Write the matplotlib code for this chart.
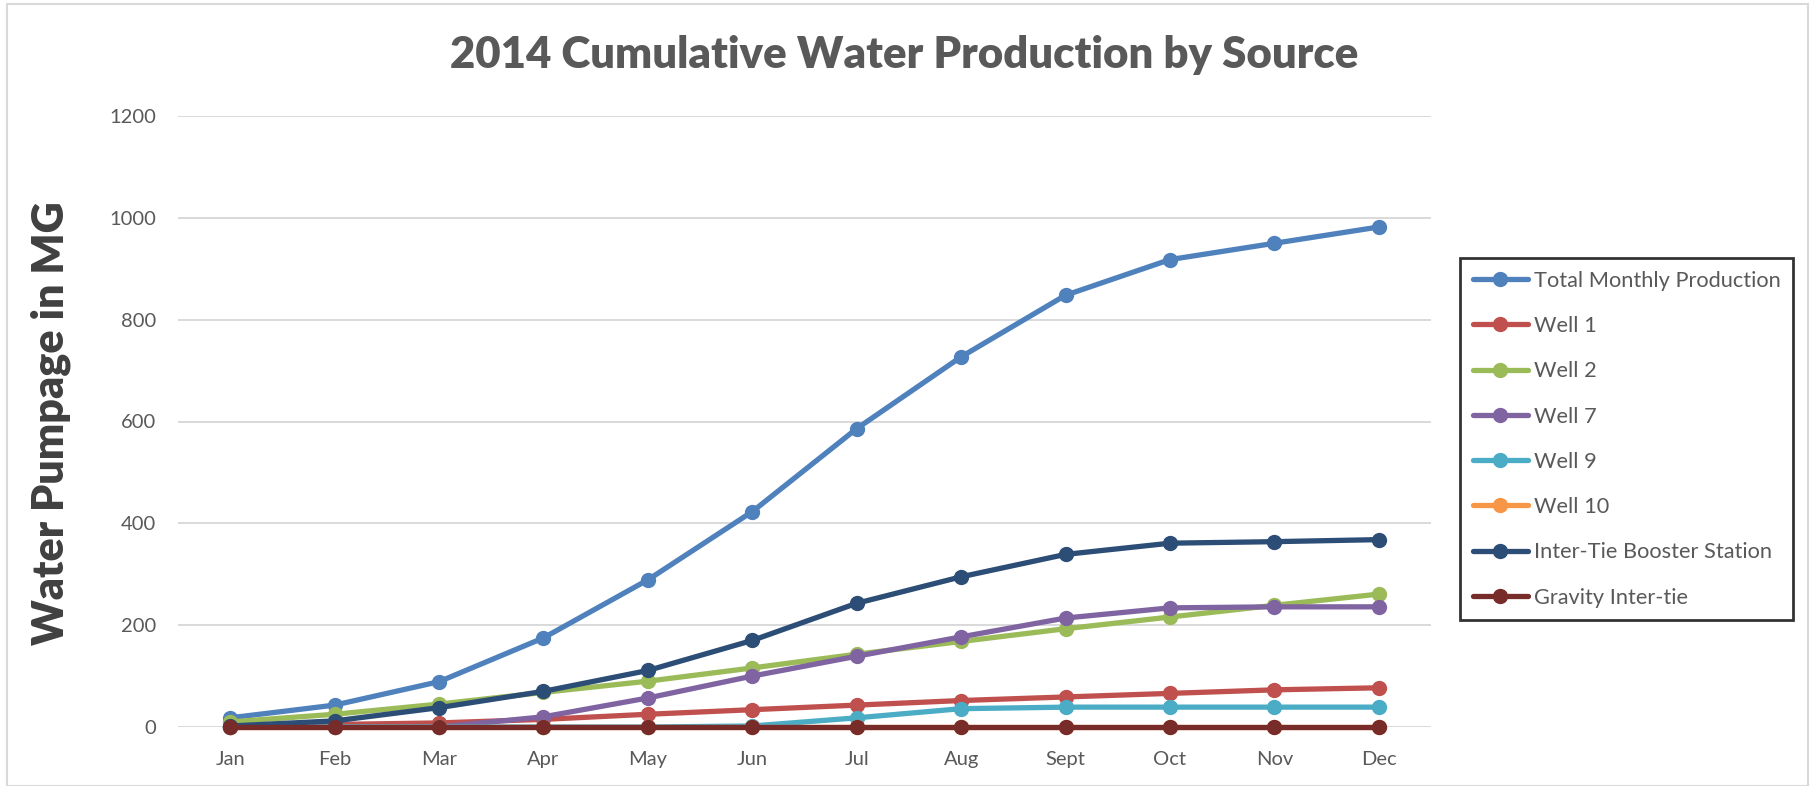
import matplotlib
matplotlib.use("Agg")
import matplotlib.pyplot as plt
from matplotlib.patches import Rectangle

months = ["Jan", "Feb", "Mar", "Apr", "May", "Jun", "Jul", "Aug", "Sept", "Oct", "Nov", "Dec"]
total = [18, 43, 89, 175, 289, 423, 586, 727, 848, 918, 950, 982]
well1 = [0, 5, 8, 15, 25, 34, 43, 52, 59, 66, 73, 77]
well2 = [10, 25, 45, 68, 90, 116, 143, 168, 193, 216, 239, 261]
well7 = [0, 0, 0, 20, 57, 100, 139, 177, 214, 234, 236, 236]
well9 = [0, 0, 0, 0, 0, 2, 18, 36, 39, 39, 39, 39]
well10 = [0, 0, 0, 0, 0, 0, 0, 0, 0, 0, 0, 0]
intertie = [2, 12, 38, 70, 111, 170, 243, 295, 339, 361, 364, 368]
gravity = [0, 0, 0, 0, 0, 0, 0, 0, 0, 0, 0, 0]

series_names = ["Total Monthly Production", "Well 1", "Well 2", "Well 7", "Well 9",
                "Well 10", "Inter-Tie Booster Station", "Gravity Inter-tie"]
series_values = [total, well1, well2, well7, well9, well10, intertie, gravity]
colors = ["#4F81BD", "#C0504D", "#9BBB59", "#8064A2", "#4BACC6", "#F79646", "#2C4D75", "#772C2A"]
yticks = [0, 200, 400, 600, 800, 1000, 1200]

plt.rcParams['font.family'] = ['Lato', 'DejaVu Sans']

W, H = 1813, 786
fig = plt.figure(figsize=(W / 100, H / 100), dpi=100)
ax = fig.add_axes([178 / W, 1 - 727 / H, (1431 - 178) / W, (727 - 116) / H])

x = list(range(len(months)))
for name, vals, c in zip(series_names, series_values, colors):
    ax.plot(x, vals, color=c, lw=3.8, marker='o', markersize=10, label=name,
            solid_capstyle='round', clip_on=False)

ax.set_xlim(-0.5, len(months) - 0.5)
ax.set_ylim(0, 1200)
ax.set_yticks(yticks)
ax.set_yticklabels([str(v) for v in yticks])
ax.set_xticks(x)
ax.set_xticklabels(months)
ax.tick_params(axis='both', length=0, labelsize=14.5, labelcolor='#595959')
ax.tick_params(axis='y', pad=16)
ax.tick_params(axis='x', pad=17)
ax.grid(axis='y', color='#d9d9d9', lw=1.4)
ax.set_axisbelow(True)
for s in ax.spines.values():
    s.set_visible(False)

fig.text(904 / W, 1 - 55 / H, "2014 Cumulative Water Production by Source",
         ha='center', va='center', fontsize=31.5, fontweight='heavy', color='#595959')
fig.text(51 / W, 1 - 423 / H, "Water Pumpage in MG", rotation=90,
         ha='center', va='center', fontsize=31, fontweight='heavy', color='#404040')

leg = ax.legend(loc='upper left', bbox_to_anchor=(1460 / W, 1 - 258 / H),
                bbox_transform=fig.transFigure, fontsize=15.7, frameon=True,
                fancybox=False, edgecolor='black', borderpad=0.58,
                labelspacing=1.16, handlelength=2.55, handletextpad=0.25,
                borderaxespad=0)
leg.get_frame().set_linewidth(2)
for t in leg.get_texts():
    t.set_color('#595959')

fig.patches.append(Rectangle((7 / W, 0), (1808 - 7) / W, 1 - 4 / H, transform=fig.transFigure,
                             fill=False, edgecolor='#d9d9d9', lw=1.5))

fig.savefig("out.png", dpi=100)
